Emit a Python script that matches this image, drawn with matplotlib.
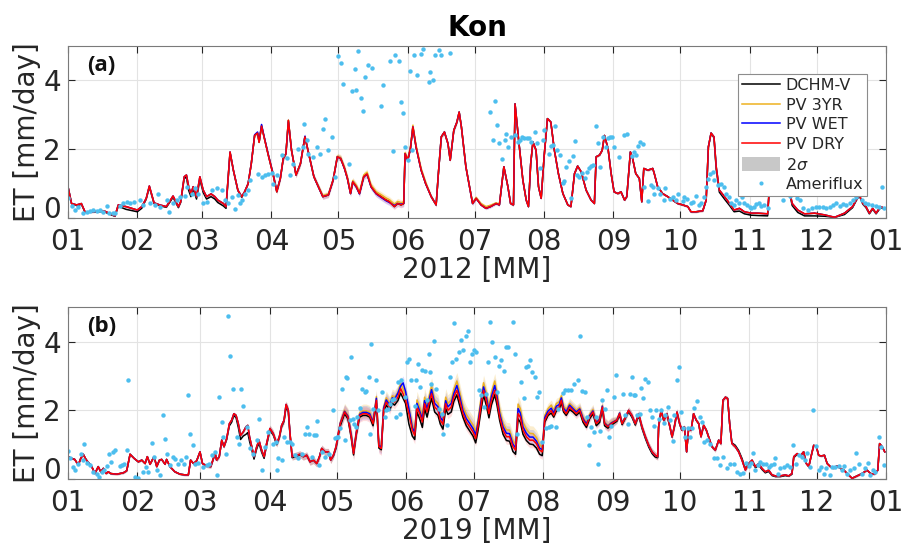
import numpy as np
import matplotlib.pyplot as plt
from matplotlib.patches import Patch
from matplotlib.lines import Line2D

# ---------- panel (a) 2012 ----------
day_a = [0, 1.6, 3.9, 6, 7.6, 11, 16, 19, 21, 22.5,
         26, 31, 33, 35, 36.4, 38.5, 41, 44, 47, 49.4,
         50.4, 52, 53, 54, 55, 56, 57.5, 59, 60.5, 62,
         64, 65.7, 67, 69.5, 70.7, 72.5, 74, 76, 77.7, 79,
         80.6, 82, 83.5, 84.8, 85.5, 86.6, 87.7, 89.6, 91.8, 93.4,
         95, 96.3, 97.5, 98.6, 100, 102, 104, 106, 107.5, 110,
         112, 114, 116.5, 118.6, 120.5, 122, 123.7, 125, 126.4, 127.4,
         129, 130.4, 132.3, 133.8, 135.6, 137.9, 140, 142.3, 143.8, 146,
         147.5, 149, 150.2, 150.8, 152, 153.2, 154.3, 155.7, 158, 160,
         162.5, 164.7, 165.7, 167, 168.4, 170, 171, 172.6, 174, 175,
         176, 178, 179.6, 181, 182.6, 184.8, 187, 189, 191.5, 193,
         195, 196.8, 198, 199.3, 200, 201.7, 203.5, 205, 206, 207,
         208, 209.4, 210.5, 211.7, 213, 214.5, 216, 217.6, 219.4, 221.4,
         223.6, 225, 226.6, 228, 229.6, 231.8, 234, 235.5, 236.3, 237.8,
         239, 240, 241.6, 243, 244.3, 246, 247.4, 249, 250, 251.6,
         252.6, 254, 255.6, 256.7, 257.6, 259.4, 261.6, 262.3, 263.8, 266,
         268.3, 270.5, 272.8, 275, 277.3, 278.7, 281, 284, 285.5, 286.5,
         287.7, 289, 290, 291.4, 293.7, 296, 298, 300.4, 302.6, 305.6,
         308.6, 313, 313.8, 314.5, 317.5, 320.5, 322.7, 324, 326.5, 329.5,
         334, 338.4, 343, 347.4, 351, 352.6, 354, 355.6, 357, 358.5,
         360, 361.5, 363.5, 365.3]
dry_a = [0.91, 0.42, 0.38, 0.42, 0.18, 0.18, 0.21, 0.12, 0.06, 0.38,
         0.33, 0.23, 0.33, 0.57, 0.93, 0.44, 0.38, 0.33, 0.64, 0.33,
         0.47, 1.2, 1.25, 0.91, 0.71, 0.91, 0.62, 1.2, 0.81, 0.62,
         0.7, 0.62, 0.52, 0.42, 0.33, 1.92, 1.39, 0.81, 0.62, 0.76,
         1.0, 1.58, 2.4, 2.47, 2.2, 2.67, 2.36, 1.83, 1.25, 0.76,
         1.15, 1.73, 1.87, 2.84, 1.97, 1.25, 1.58, 2.36, 1.92, 1.2,
         0.91, 0.62, 0.67, 1.1, 1.78, 1.73, 1.44, 1.15, 0.71, 1.05,
         0.91, 0.71, 1.2, 1.28, 0.91, 0.71, 0.62, 0.52, 0.47, 0.33,
         0.42, 0.38, 0.42, 1.87, 1.68, 2.02, 2.65, 2.07, 1.39, 1.0,
         0.62, 0.38, 1.29, 2.36, 2.5, 2.16, 1.68, 2.55, 2.79, 3.08,
         2.65, 1.49, 0.91, 0.42, 0.57, 0.38, 0.28, 0.33, 0.42, 0.38,
         1.49, 0.91, 0.42, 0.38, 3.32, 2.21, 1.1, 0.52, 0.33, 1.58,
         2.21, 1.97, 0.91, 0.57, 1.78, 2.89, 2.79, 1.97, 1.29, 0.71,
         0.38, 0.33, 1.29, 1.51, 1.34, 0.81, 0.52, 0.42, 1.78, 1.83,
         1.97, 2.4, 2.02, 1.29, 0.76, 0.71, 0.76, 0.52, 0.62, 1.92,
         1.73, 1.29, 1.15, 0.47, 1.44, 1.39, 1.44, 1.29, 0.91, 0.71,
         0.62, 0.52, 0.42, 0.38, 0.33, 0.18, 0.18, 0.21, 0.52, 2.07,
         2.47, 2.36, 1.49, 0.81, 0.62, 0.42, 0.23, 0.28, 0.18, 0.14,
         0.14, 0.12, 0.91, 1.3, 1.5, 1.3, 0.81, 0.42, 0.23, 0.12,
         0.14, 0.09, 0.02, 0.14, 0.33, 0.52, 0.67, 0.42, 0.33, 0.14,
         0.28, 0.14, 0.33, 0.28]
dchm_a = [0.91, 0.42, 0.36, 0.40, 0.17, 0.17, 0.19, 0.10, 0.05, 0.34,
          0.25, 0.18, 0.28, 0.55, 0.90, 0.42, 0.36, 0.31, 0.60, 0.30,
          0.45, 1.15, 1.18, 0.80, 0.62, 0.85, 0.55, 1.12, 0.74, 0.55,
          0.62, 0.55, 0.45, 0.35, 0.28, 1.90, 1.38, 0.80, 0.60, 0.75,
          1.0, 1.58, 2.4, 2.47, 2.2, 2.67, 2.36, 1.83, 1.25, 0.76,
          1.15, 1.73, 1.87, 2.84, 1.97, 1.25, 1.58, 2.36, 1.92, 1.2,
          0.91, 0.62, 0.67, 1.1, 1.78, 1.73, 1.44, 1.15, 0.71, 1.05,
          0.91, 0.71, 1.2, 1.28, 0.91, 0.71, 0.62, 0.52, 0.47, 0.33,
          0.42, 0.38, 0.42, 1.87, 1.68, 2.02, 2.65, 2.07, 1.39, 1.0,
          0.62, 0.38, 1.29, 2.36, 2.5, 2.16, 1.68, 2.55, 2.79, 3.08,
          2.65, 1.49, 0.91, 0.42, 0.57, 0.38, 0.28, 0.33, 0.42, 0.38,
          1.49, 0.91, 0.42, 0.38, 3.32, 2.21, 1.1, 0.52, 0.33, 1.58,
          2.21, 1.97, 0.91, 0.57, 1.78, 2.89, 2.79, 1.97, 1.29, 0.71,
          0.38, 0.33, 1.29, 1.51, 1.34, 0.81, 0.52, 0.42, 1.78, 1.83,
          1.97, 2.4, 2.02, 1.29, 0.76, 0.71, 0.76, 0.52, 0.62, 1.92,
          1.73, 1.29, 1.15, 0.47, 1.44, 1.39, 1.44, 1.29, 0.91, 0.71,
          0.62, 0.52, 0.42, 0.38, 0.33, 0.18, 0.18, 0.21, 0.52, 2.07,
          2.47, 2.33, 1.42, 0.75, 0.55, 0.36, 0.18, 0.20, 0.12, 0.08,
          0.07, 0.06, 0.88, 1.28, 1.48, 1.28, 0.75, 0.36, 0.16, 0.06,
          0.06, 0.05, 0.02, 0.10, 0.30, 0.50, 0.65, 0.40, 0.30, 0.12,
          0.26, 0.12, 0.30, 0.26]
yr3_a = [0.91, 0.42, 0.38, 0.42, 0.18, 0.18, 0.21, 0.12, 0.06, 0.38,
         0.33, 0.23, 0.33, 0.57, 0.93, 0.44, 0.38, 0.33, 0.64, 0.33,
         0.47, 1.2, 1.25, 0.91, 0.71, 0.91, 0.62, 1.2, 0.81, 0.62,
         0.7, 0.62, 0.52, 0.42, 0.33, 1.92, 1.39, 0.81, 0.62, 0.76,
         1.0, 1.58, 2.4, 2.47, 2.2, 2.70, 2.36, 1.85, 1.28, 0.8,
         1.15, 1.73, 1.87, 2.84, 1.97, 1.25, 1.58, 2.36, 1.92, 1.2,
         0.93, 0.65, 0.7, 1.12, 1.8, 1.76, 1.48, 1.19, 0.76, 1.09,
         0.95, 0.76, 1.25, 1.33, 0.96, 0.76, 0.68, 0.58, 0.53, 0.40,
         0.48, 0.44, 0.47, 1.9, 1.72, 2.06, 2.7, 2.12, 1.44, 1.05,
         0.62, 0.38, 1.29, 2.36, 2.5, 2.16, 1.68, 2.55, 2.79, 3.08,
         2.65, 1.5, 0.93, 0.45, 0.6, 0.42, 0.33, 0.37, 0.44, 0.4,
         1.49, 0.91, 0.42, 0.38, 3.32, 2.21, 1.1, 0.52, 0.33, 1.58,
         2.21, 1.97, 0.91, 0.57, 1.78, 2.89, 2.79, 1.97, 1.29, 0.71,
         0.38, 0.33, 1.29, 1.51, 1.34, 0.81, 0.52, 0.42, 1.78, 1.83,
         1.97, 2.4, 2.02, 1.29, 0.76, 0.71, 0.76, 0.52, 0.62, 1.92,
         1.73, 1.29, 1.15, 0.47, 1.44, 1.39, 1.44, 1.29, 0.91, 0.71,
         0.62, 0.52, 0.42, 0.38, 0.33, 0.18, 0.18, 0.21, 0.52, 2.07,
         2.47, 2.36, 1.49, 0.81, 0.62, 0.42, 0.23, 0.28, 0.18, 0.14,
         0.14, 0.12, 0.91, 1.3, 1.5, 1.3, 0.81, 0.42, 0.23, 0.12,
         0.14, 0.09, 0.02, 0.14, 0.33, 0.52, 0.67, 0.42, 0.33, 0.14,
         0.28, 0.14, 0.33, 0.28]
wet_a = [0.91, 0.42, 0.38, 0.42, 0.18, 0.18, 0.21, 0.12, 0.06, 0.38,
         0.33, 0.23, 0.33, 0.57, 0.93, 0.44, 0.38, 0.33, 0.64, 0.33,
         0.47, 1.2, 1.25, 0.91, 0.71, 0.91, 0.62, 1.2, 0.81, 0.62,
         0.7, 0.62, 0.52, 0.42, 0.33, 1.92, 1.39, 0.81, 0.62, 0.76,
         1.0, 1.58, 2.42, 2.5, 2.22, 2.72, 2.38, 1.85, 1.27, 0.78,
         1.15, 1.73, 1.87, 2.8, 1.97, 1.25, 1.58, 2.38, 1.92, 1.2,
         0.91, 0.62, 0.67, 1.1, 1.78, 1.73, 1.44, 1.15, 0.71, 1.05,
         0.9, 0.7, 1.2, 1.27, 0.9, 0.7, 0.6, 0.5, 0.45, 0.36,
         0.42, 0.4, 0.42, 1.87, 1.68, 2.02, 2.65, 2.07, 1.39, 1.0,
         0.62, 0.38, 1.29, 2.36, 2.5, 2.16, 1.68, 2.55, 2.79, 3.08,
         2.65, 1.49, 0.91, 0.42, 0.57, 0.38, 0.28, 0.33, 0.42, 0.38,
         1.49, 0.91, 0.42, 0.38, 3.32, 2.21, 1.1, 0.52, 0.33, 1.58,
         2.21, 1.97, 0.91, 0.57, 1.78, 2.89, 2.79, 1.97, 1.29, 0.71,
         0.38, 0.33, 1.29, 1.51, 1.34, 0.81, 0.52, 0.42, 1.78, 1.83,
         1.97, 2.4, 2.02, 1.29, 0.76, 0.71, 0.76, 0.52, 0.62, 1.92,
         1.73, 1.29, 1.15, 0.47, 1.44, 1.39, 1.44, 1.29, 0.91, 0.71,
         0.62, 0.52, 0.42, 0.38, 0.33, 0.18, 0.18, 0.21, 0.52, 2.07,
         2.47, 2.36, 1.49, 0.81, 0.62, 0.42, 0.23, 0.28, 0.18, 0.14,
         0.14, 0.12, 0.91, 1.3, 1.5, 1.3, 0.81, 0.42, 0.23, 0.12,
         0.14, 0.09, 0.02, 0.14, 0.33, 0.52, 0.67, 0.42, 0.33, 0.14,
         0.28, 0.14, 0.33, 0.28]
sig_a = [0.03, 0.03, 0.04, 0.08, 0.09, 0.06, 0.04, 0.03, 0.03, 0.03, 0.02, 0.02]

flux_day_a = [0.1, 1.6, 3.1, 4.6, 6.6, 8.4, 9.8, 11.3, 12.8, 14.3, 15.8, 17.3, 18.5, 20, 21,
              23.3, 24.8, 26.2, 27.7, 29.5, 32.2, 33.7, 36.7, 38.9, 40.4, 41.2, 44.1, 45.3,
              47.1, 48.6, 50.1, 52.3, 53.1, 55.3, 56.8, 58.3, 60.3,
              62, 64.3, 66.5, 68.8, 70.2, 71.7, 73.2, 74.7, 76.2, 77, 77.7, 79.2, 80.7, 81.4,
              85.2, 86.7, 88.1, 89.6, 91.1,
              91.9, 93.4, 95.6, 97.8, 99.3, 100.8, 103.1, 105.3, 105.8, 106.8, 107.5, 109.8,
              111.3, 112.7, 114.2, 115, 116.5, 118, 119.5,
              121, 122.2, 122.9, 125.9, 127, 128.2, 128.9, 129.9, 131.1, 132.2, 133.1, 134.1,
              135.9, 140.1, 141, 144.1, 145.2, 146.1, 148, 149, 150.1, 150.8, 152,
              153.2, 154, 155, 156, 158, 159, 161.3, 162, 163.2, 164, 166.2, 167, 171,
              189, 190.1, 191.1, 192, 193, 194, 195.3, 196, 197, 198, 199.8, 201.3, 202, 203,
              204.2, 205.4, 206.4, 207.2, 209, 209.9, 211.1, 212.3, 212.9,
              215, 216.2, 216.9, 217.9, 218.8, 220.2, 221.4, 222.1, 222.9, 224.1, 225.1, 225.9,
              226.9, 227.8, 228.8, 229.9, 231.1, 232.2, 233.1, 234.1, 234.8, 236, 237, 238.1,
              239.3, 240.8, 241.5, 242.4, 243.3,
              244.1, 246.7, 248.9, 250.1, 252.2, 253.4, 254.1, 254.9, 256.1, 257.1, 257.9,
              259.4, 260.6, 261.6, 262.3, 263.8, 265, 266.5, 267.1, 269.1, 270.5, 272, 273.1,
              275, 275.8, 277, 278.5, 279.5, 281, 282.5, 283.2, 284.4, 285.5, 286.5, 287.4,
              288.4, 289.2, 290.7, 292.2, 293.4, 294.4, 295.5, 296.7, 297.8, 298.9, 300.4,
              301.4, 302.6, 303.8, 304.9,
              305.6, 306.8, 307.8, 309.3, 310, 311.5, 313, 317, 320, 323, 326, 327.5, 329,
              331, 333, 334.5,
              336.2, 337.7, 339.2, 340.7, 342.2, 343.7, 345.2, 346.7, 348.2, 349.7, 351.2,
              352.7, 355, 356.5, 358, 359.5, 361.3, 362.8, 364, 365.2]
flux_a = [0.57, 0.35, 0.23, 0.33, 0.15, 0.18, 0.21, 0.23, 0.21, 0.23, 0.18, 0.35, 0.14, 0.14, 0.15,
          0.35, 0.43, 0.47, 0.43, 0.47, 0.52, 0.38, 0.43, 0.38, 0.71, 0.33, 0.52, 0.18,
          0.43, 0.52, 0.62, 0.64, 0.91, 0.71, 0.86, 0.71, 0.43,
          0.47, 0.81, 0.86, 0.81, 0.52, 0.43, 0.62, 0.25, 0.67, 0.43, 0.52, 0.7, 0.81, 1.1,
          1.29, 1.2, 1.25, 1.29, 1.31,
          1.0, 1.25, 1.83, 1.73, 1.25, 1.58, 2.02, 2.07, 2.74, 2.26, 1.87, 1.78,
          2.07, 1.87, 2.6, 2.89, 1.97, 2.36, 1.2,
          4.72, 4.5, 3.9, 1.57, 3.69, 4.34, 3.71, 4.87, 3.5, 3.11, 4.1, 4.46,
          4.37, 3.26, 3.87, 4.56, 1.95, 4.75, 4.58, 3.37, 3.05, 2.07, 1.68,
          4.29, 1.99, 4.73, 4.17, 4.77, 4.92, 3.95, 4.26, 4.0, 4.73, 4.89, 4.73, 4.79,
          3.08, 2.28, 3.4, 2.7, 2.18, 1.72, 2.28, 2.43, 2.07, 2.36, 2.41, 2.21, 2.28, 2.36,
          2.34, 2.33, 2.34, 2.21, 2.5, 2.18, 1.44, 2.26, 2.57,
          1.86, 2.09, 2.12, 2.69, 1.97, 1.83, 1.02, 1.08, 1.49, 1.66, 0.57, 1.8,
          2.24, 1.25, 1.18, 1.31, 1.15, 1.34, 1.44, 1.51, 1.54, 2.69, 2.19, 1.49,
          2.36, 2.05, 2.34, 2.36, 2.36,
          2.07, 1.78, 2.4, 2.45, 1.8, 1.92, 1.83, 2.09, 2.21, 2.16, 0.91,
          0.5, 0.96, 0.91, 0.7, 0.86, 0.71, 0.52, 0.86, 0.54, 0.62, 0.52, 0.71,
          0.5, 0.62, 0.54, 0.43, 0.47, 0.64, 0.38, 0.43, 0.62, 0.91, 1.12, 1.29,
          1.34, 1.1, 0.96, 0.99, 0.91, 0.71, 0.62, 0.44, 0.38, 0.52, 0.43,
          0.62, 0.43, 0.38, 0.33,
          0.28, 0.33, 0.41, 0.43, 0.35, 0.38, 0.28, 0.74, 0.53, 0.63, 0.58, 0.53, 0.28,
          0.23, 0.28, 0.33,
          0.33, 0.33, 0.28, 0.33, 0.38, 0.43, 0.35, 0.41, 0.38, 0.43, 0.52,
          0.62, 0.52, 0.44, 0.41, 0.38, 0.35, 0.33, 0.89, 0.28]

# ---------- panel (b) 2019 ----------
day_b = [0, 1.6, 3, 4.6, 5.7, 6.8, 8, 9.5, 10.6, 12,
         13.5, 14.6, 15.8, 17, 18, 19, 21.7, 24.7, 26.2, 27.7,
         29.5, 31.4, 32.9, 34.4, 35.4, 36.6, 38.4, 39.6, 40.8, 41.8,
         43.3, 44, 45.5, 47.7, 50, 52.2, 53.7, 54.7, 56, 57.4,
         58.9, 60, 61.9, 63.7, 64.9, 65.6, 66.3, 67.5, 68.6, 69.6,
         70.8, 72, 73, 74, 75, 76, 77, 78.2, 79.4, 80.2,
         81, 82, 83, 84.2, 85.2, 86.4, 87.5, 88.6, 90.1, 91.6,
         93.1, 94.3, 95.3, 96.4, 97.3, 98.3, 99, 100, 102, 103.5,
         105, 106.5, 108, 109.5, 111, 112.2, 113.2, 114.7, 116.2, 117.2,
         118.4, 119.6, 120.6, 121.5, 123.4, 124.9, 126.4, 127.4, 128.6, 130.1,
         131.6, 133.1, 134.6, 136.1, 137.6, 138.7, 139.8, 140.8, 142, 143.5,
         144.7, 145.7, 147.2, 148.4, 149.5, 150.6, 152.1, 153.6, 154.7, 155.7,
         156.9, 158.1, 159.1, 160.2, 161.4, 162.2, 163.6, 165.1, 166.1, 167.3,
         168.5, 169.5, 171, 172.1, 173.5, 174.7, 176.2, 177.7, 179.2, 180.7,
         181.9, 182.9, 184.4, 185.4, 186.6, 187.8, 188.9, 190.4, 191.4, 192.6,
         194.1, 195.6, 197, 198.5, 199.7, 200.8, 201.8, 203, 204.5, 206,
         207.5, 209, 210.4, 211.6, 212.7, 214.2, 215.6, 216.7, 217.9, 219.1,
         220.1, 221.1, 222.3, 223.8, 225.3, 226.8, 228.3, 229.8, 231.3, 232.7,
         234.2, 235.7, 237.2, 238.4, 239.4, 240.9, 242.4, 244.9, 246.1, 247.2,
         248.7, 250.1, 251.6, 253.1, 254.6, 256.1, 257.6, 259.1, 260.6, 262,
         263.1, 263.5, 264.6, 265.8, 267.2, 268.4, 269.5, 270.5, 271.7, 272.9,
         273.9, 275, 276, 276.9, 278, 279.1, 280.3, 281.4, 282.4, 283.6,
         284.8, 286.3, 287.3, 288.8, 290.3, 291.3, 292.2, 293.3, 294.3, 295.2,
         296.2, 297.7, 299.2, 300.7, 302.2, 303.7, 305.2, 306.7, 308.2, 309.6,
         311.1, 312.6, 314.1, 315.6, 317.8, 320, 321.5, 323, 323.8, 325.3,
         326.7, 328.2, 329.4, 330.5, 331.5, 332.7, 333.9, 334.9, 336, 337.5,
         338.7, 340.1, 341.6, 343.1, 344.6, 346.1, 347.9, 349.8, 352, 354.3,
         356.5, 358, 359.8, 361.3, 362.1, 363.2, 364.4]
dry_b = [0.65, 0.6, 0.57, 0.41, 0.6, 0.72, 0.57, 0.45, 0.36, 0.16,
         0.36, 0.21, 0.31, 0.16, 0.21, 0.16, 0.14, 0.18, 0.24, 0.72,
         0.6, 0.5, 0.55, 0.45, 0.65, 0.43, 0.65, 0.36, 0.55, 0.57,
         0.43, 0.57, 0.36, 0.21, 0.14, 0.12, 0.12, 0.55, 0.45, 0.53,
         0.79, 0.45, 0.38, 0.36, 0.6, 0.76, 0.55, 0.65, 1.13, 0.94,
         1.18, 1.61, 1.71, 1.9, 1.85, 1.61, 1.27, 1.37, 1.52, 1.56,
         1.23, 0.94, 0.65, 0.94, 1.13, 0.84, 0.65, 1.03, 1.47, 1.32,
         1.03, 1.23, 1.56, 1.71, 2.17, 2.0, 1.37, 0.65, 0.69, 0.72,
         0.65, 0.69, 0.5, 0.55, 0.45, 0.65, 0.89, 0.79, 0.79, 0.55,
         0.69, 0.94, 1.32, 1.61, 1.95, 1.8, 1.23, 0.74, 1.32, 1.85,
         1.9, 1.9, 1.85, 1.61, 2.29, 0.94, 0.89, 2.0, 2.24, 2.09,
         2.29, 2.24, 2.38, 2.63, 2.48, 2.29, 1.9, 1.42, 1.27, 2.09,
         1.9, 1.66, 2.19, 1.95, 2.29, 2.48, 2.09, 2.0, 1.71, 1.59,
         2.19, 2.0, 2.09, 2.38, 2.58, 2.29, 1.9, 1.66, 1.52, 1.37,
         1.18, 1.52, 2.19, 2.58, 2.29, 1.9, 2.29, 2.58, 2.29, 1.8,
         1.42, 1.23, 1.23, 0.94, 0.84, 1.9, 1.8, 1.42, 1.23, 1.13,
         1.13, 1.03, 0.84, 0.79, 1.71, 1.9, 1.99, 1.85, 2.05, 2.09,
         2.29, 2.0, 1.9, 2.09, 2.0, 1.9, 2.0, 1.71, 1.56, 1.8,
         1.95, 1.61, 1.71, 2.09, 1.61, 1.52, 1.61, 1.71, 1.9, 1.61,
         1.8, 2.0, 1.85, 1.61, 1.9, 1.52, 1.23, 0.98, 0.79, 0.69,
         0.65, 1.52, 2.0, 1.71, 1.9, 1.56, 1.23, 1.52, 1.95, 1.61,
         1.42, 1.52, 0.79, 1.47, 1.42, 1.9, 1.71, 1.61, 1.23, 1.56,
         1.42, 1.13, 0.94, 0.84, 1.13, 1.03, 2.29, 2.38, 2.34, 1.61,
         1.03, 0.94, 0.79, 0.55, 0.26, 0.45, 0.55, 0.36, 0.45, 0.31,
         0.21, 0.26, 0.12, 0.09, 0.09, 0.12, 0.09, 0.16, 0.65, 0.74,
         0.67, 0.79, 0.45, 0.36, 0.65, 0.98, 0.94, 0.69, 0.67, 0.69,
         0.45, 0.36, 0.31, 0.38, 0.31, 0.26, 0.14, 0.02, 0.09, 0.16,
         0.26, 0.16, 0.14, 0.26, 1.03, 0.94, 0.79]
dchm_b = [0.65, 0.6, 0.57, 0.41, 0.6, 0.72, 0.57, 0.45, 0.36, 0.16,
          0.36, 0.21, 0.31, 0.16, 0.21, 0.16, 0.14, 0.18, 0.24, 0.72,
          0.6, 0.5, 0.55, 0.45, 0.65, 0.43, 0.65, 0.36, 0.55, 0.57,
          0.43, 0.57, 0.36, 0.21, 0.14, 0.12, 0.12, 0.55, 0.45, 0.53,
          0.79, 0.45, 0.38, 0.36, 0.6, 0.76, 0.55, 0.65, 1.13, 0.94,
          1.15, 1.55, 1.65, 1.85, 1.78, 1.5, 1.15, 1.25, 1.3, 1.35,
          1.1, 0.85, 0.58, 0.88, 1.05, 0.78, 0.6, 0.98, 1.42, 1.28,
          1.0, 1.2, 1.52, 1.68, 2.1, 1.95, 1.33, 0.62, 0.66, 0.7,
          0.65, 0.69, 0.5, 0.55, 0.45, 0.65, 0.89, 0.79, 0.79, 0.55,
          0.67, 0.9, 1.28, 1.55, 1.9, 1.75, 1.18, 0.7, 1.28, 1.8,
          1.85, 1.85, 1.8, 1.55, 2.2, 0.9, 0.85, 1.95, 2.15, 2.0,
          2.2, 2.15, 2.28, 2.5, 2.35, 2.2, 1.6, 1.25, 1.15, 1.95,
          1.75, 1.5, 2.05, 1.8, 2.15, 2.35, 1.95, 1.85, 1.6, 1.45,
          2.05, 1.88, 1.95, 2.25, 2.45, 2.15, 1.8, 1.55, 1.4, 1.25,
          1.05, 1.4, 2.05, 2.45, 2.15, 1.78, 2.15, 2.45, 2.15, 1.7,
          1.3, 1.12, 1.1, 0.8, 0.72, 1.75, 1.65, 1.3, 1.12, 1.02,
          1.0, 0.9, 0.72, 0.68, 1.65, 1.85, 1.92, 1.8, 1.98, 2.02,
          2.22, 1.95, 1.85, 2.02, 1.95, 1.85, 1.95, 1.65, 1.5, 1.75,
          1.9, 1.55, 1.65, 2.02, 1.55, 1.48, 1.57, 1.68, 1.86, 1.58,
          1.77, 1.96, 1.8, 1.57, 1.85, 1.47, 1.18, 0.93, 0.74, 0.64,
          0.62, 1.5, 1.98, 1.7, 1.88, 1.55, 1.22, 1.5, 1.93, 1.6,
          1.42, 1.52, 0.79, 1.47, 1.42, 1.9, 1.71, 1.61, 1.23, 1.56,
          1.42, 1.13, 0.94, 0.84, 1.13, 1.03, 2.29, 2.38, 2.34, 1.61,
          1.05, 0.98, 0.83, 0.6, 0.3, 0.45, 0.5, 0.33, 0.4, 0.28,
          0.18, 0.22, 0.1, 0.07, 0.07, 0.1, 0.08, 0.14, 0.62, 0.72,
          0.67, 0.79, 0.45, 0.36, 0.65, 0.98, 0.94, 0.69, 0.67, 0.69,
          0.45, 0.36, 0.31, 0.38, 0.31, 0.26, 0.14, 0.02, 0.09, 0.16,
          0.26, 0.16, 0.14, 0.26, 1.03, 0.94, 0.79]
yr3_b = [0.65, 0.6, 0.57, 0.41, 0.6, 0.72, 0.57, 0.45, 0.36, 0.16,
         0.36, 0.21, 0.31, 0.16, 0.21, 0.16, 0.14, 0.18, 0.24, 0.72,
         0.6, 0.5, 0.55, 0.45, 0.65, 0.43, 0.65, 0.36, 0.55, 0.57,
         0.43, 0.57, 0.36, 0.21, 0.14, 0.12, 0.12, 0.55, 0.45, 0.53,
         0.79, 0.45, 0.38, 0.36, 0.6, 0.76, 0.55, 0.65, 1.13, 0.94,
         1.18, 1.61, 1.71, 1.9, 1.85, 1.61, 1.27, 1.37, 1.52, 1.56,
         1.23, 0.94, 0.65, 0.94, 1.13, 0.84, 0.65, 1.03, 1.47, 1.32,
         1.03, 1.23, 1.56, 1.71, 2.17, 2.0, 1.37, 0.65, 0.69, 0.72,
         0.65, 0.69, 0.5, 0.55, 0.45, 0.65, 0.89, 0.79, 0.79, 0.55,
         0.7, 0.96, 1.35, 1.65, 2.0, 1.86, 1.3, 0.8, 1.38, 1.92,
         1.98, 1.98, 1.94, 1.7, 2.4, 1.02, 0.97, 2.1, 2.36, 2.2,
         2.42, 2.38, 2.52, 2.78, 2.62, 2.45, 2.05, 1.58, 1.42, 2.3,
         2.08, 1.85, 2.38, 2.15, 2.48, 2.7, 2.3, 2.2, 1.9, 1.78,
         2.38, 2.2, 2.3, 2.6, 2.85, 2.55, 2.12, 1.88, 1.72, 1.57,
         1.38, 1.72, 2.42, 2.8, 2.52, 2.12, 2.52, 2.85, 2.52, 2.02,
         1.62, 1.43, 1.42, 1.12, 1.0, 2.18, 2.05, 1.65, 1.45, 1.33,
         1.32, 1.2, 1.0, 0.92, 1.85, 2.05, 2.15, 2.0, 2.2, 2.24,
         2.42, 2.12, 2.02, 2.2, 2.1, 2.0, 2.08, 1.8, 1.64, 1.88,
         2.02, 1.68, 1.77, 2.14, 1.66, 1.56, 1.65, 1.74, 1.93, 1.64,
         1.8, 2.0, 1.85, 1.61, 1.9, 1.52, 1.23, 0.98, 0.79, 0.69,
         0.65, 1.52, 2.0, 1.71, 1.9, 1.56, 1.23, 1.52, 1.95, 1.61,
         1.42, 1.52, 0.79, 1.47, 1.42, 1.9, 1.71, 1.61, 1.23, 1.56,
         1.42, 1.13, 0.94, 0.84, 1.13, 1.03, 2.29, 2.38, 2.34, 1.61,
         1.03, 0.94, 0.79, 0.55, 0.26, 0.45, 0.55, 0.36, 0.45, 0.31,
         0.21, 0.26, 0.12, 0.09, 0.09, 0.12, 0.09, 0.16, 0.65, 0.74,
         0.67, 0.79, 0.45, 0.36, 0.65, 0.98, 0.94, 0.69, 0.67, 0.69,
         0.45, 0.36, 0.31, 0.38, 0.31, 0.26, 0.14, 0.02, 0.09, 0.16,
         0.26, 0.16, 0.14, 0.26, 1.03, 0.94, 0.79]
wet_b = [0.65, 0.6, 0.57, 0.41, 0.6, 0.72, 0.57, 0.45, 0.36, 0.16,
         0.36, 0.21, 0.31, 0.16, 0.21, 0.16, 0.14, 0.18, 0.24, 0.72,
         0.6, 0.5, 0.55, 0.45, 0.65, 0.43, 0.65, 0.36, 0.55, 0.57,
         0.43, 0.57, 0.36, 0.21, 0.14, 0.12, 0.12, 0.55, 0.45, 0.53,
         0.79, 0.45, 0.38, 0.36, 0.6, 0.76, 0.55, 0.65, 1.13, 0.94,
         1.18, 1.61, 1.71, 1.9, 1.85, 1.61, 1.27, 1.37, 1.52, 1.56,
         1.23, 0.94, 0.65, 0.94, 1.13, 0.84, 0.65, 1.03, 1.47, 1.32,
         1.03, 1.23, 1.56, 1.71, 2.17, 2.0, 1.37, 0.65, 0.69, 0.72,
         0.65, 0.69, 0.5, 0.55, 0.45, 0.65, 0.89, 0.79, 0.79, 0.55,
         0.69, 0.94, 1.33, 1.63, 1.97, 1.83, 1.27, 0.77, 1.35, 1.88,
         1.94, 1.94, 1.9, 1.66, 2.35, 0.98, 0.93, 2.06, 2.3, 2.15,
         2.36, 2.32, 2.5, 2.7, 2.8, 2.55, 2.05, 1.5, 1.35, 2.2,
         1.98, 1.75, 2.28, 2.05, 2.38, 2.6, 2.2, 2.1, 1.8, 1.68,
         2.28, 2.1, 2.2, 2.48, 2.72, 2.42, 2.0, 1.76, 1.62, 1.47,
         1.28, 1.62, 2.3, 2.68, 2.4, 2.0, 2.4, 2.72, 2.4, 1.9,
         1.52, 1.33, 1.32, 1.02, 0.9, 2.05, 1.92, 1.52, 1.33, 1.22,
         1.22, 1.1, 0.9, 0.85, 1.78, 1.98, 2.06, 1.92, 2.12, 2.16,
         2.36, 2.06, 1.96, 2.15, 2.05, 1.95, 2.04, 1.76, 1.6, 1.84,
         1.98, 1.64, 1.74, 2.12, 1.63, 1.54, 1.63, 1.72, 1.92, 1.63,
         1.8, 2.0, 1.85, 1.61, 1.9, 1.52, 1.23, 0.98, 0.79, 0.69,
         0.65, 1.52, 2.0, 1.71, 1.9, 1.56, 1.23, 1.52, 1.95, 1.61,
         1.42, 1.52, 0.79, 1.47, 1.42, 1.9, 1.71, 1.61, 1.23, 1.56,
         1.42, 1.13, 0.94, 0.84, 1.13, 1.03, 2.29, 2.38, 2.34, 1.61,
         1.03, 0.94, 0.79, 0.55, 0.26, 0.45, 0.55, 0.36, 0.45, 0.31,
         0.21, 0.26, 0.12, 0.09, 0.09, 0.12, 0.09, 0.16, 0.65, 0.74,
         0.67, 0.79, 0.45, 0.36, 0.65, 0.98, 0.94, 0.69, 0.67, 0.69,
         0.45, 0.36, 0.31, 0.38, 0.31, 0.26, 0.14, 0.02, 0.09, 0.16,
         0.26, 0.16, 0.14, 0.26, 1.03, 0.94, 0.79]
sig_b = [0.03, 0.03, 0.05, 0.1, 0.2, 0.25, 0.22, 0.15, 0.1, 0.06, 0.03, 0.03]

flux_day_b = [0, 0.9, 2.4, 3.1, 4.6, 5.7, 6.5, 7.1, 8.3, 9.8, 11, 12.8, 14, 15, 16.1, 17.3,
              18.4, 19, 19.9, 21, 23.2, 23.9, 25, 26.2, 26.9, 29.9, 31.4,
              33.6, 34.8, 35.8, 37.3, 38.4, 39.6, 41.1, 42.2, 43.3, 44.3, 45.5, 46.7, 47.7,
              49.2, 50.3, 51.8, 52.7, 53.4, 54.4, 55.6, 56.7, 58.2,
              60.4, 61.9, 63.1, 64.1, 65.6, 66.3, 67.5, 68.6, 69.3, 70.5, 71.2, 72.3, 73.5,
              75.3, 76.5, 77.2, 78.2, 79.7, 81.2, 82.7, 84.2, 85.2, 86.4, 87.9, 89.4,
              91.6, 92.8, 93.4, 93.9, 95.3, 96.4, 97.6, 99.1, 99.8, 101.3, 102.8, 104.3,
              105.8, 106.8, 107.7, 108.7, 109.8, 110.7, 111.3, 112.1, 113.2, 114.7, 116.6,
              118.1, 119.1, 120.2,
              120.4, 121.2, 122.4, 123.4, 124.2, 124.6, 125.7, 126.4, 127.1, 127.4, 128.3,
              128.9, 130.1, 131.3, 132.3, 133.1, 134.3, 134.9, 135.3, 136.1, 137.3, 138.3,
              140.2, 141.3, 142, 142.8, 143.5, 144.7, 145.3, 146.5, 147.2, 148, 148.7, 150.2,
              151.2, 152.1, 153.2, 154.7, 155.4, 156.1, 157.2, 158.1, 159.1, 160.2, 161,
              161.6, 162.1, 163.4, 164.3, 165.5, 167, 167.3, 169.1, 170.3, 171.2, 172.4,
              173.3, 174.4, 175.5, 176.2, 177.4, 178.5, 179.5, 180.4, 181.3, 182.2, 183.4,
              184.4, 185.4, 186.3, 187.4, 188.4, 189.3, 190.4, 191.4, 192.3, 193.3, 194.4,
              195.3, 196.3, 198.5, 199.3, 200.3, 202.3, 203.3, 204.2, 205.2, 206.3, 207.2,
              208.2, 209.2, 210.1, 211.6, 213.4, 214.6, 215.6, 217.6, 218.6, 220.8, 221.9,
              223.1, 224.6, 225.6, 227.5, 228.3, 229.5, 230.5, 231.6, 232.5, 233.5, 234.5,
              235.7, 236.5, 237.2, 238.4, 239.4, 240.5, 241.4, 242.4, 243.5, 244.6,
              247.6, 248.7, 249.7, 250.6, 251.6, 252.4, 253.1, 253.9, 255, 255.6, 256.5,
              257.6, 258.6, 259.5, 260.6, 261.6, 262.5, 263.5, 264.6, 265.8, 266.5, 267.5,
              268.7, 269.8, 270.5, 271.7, 272.6, 273.5, 274.4, 275.4, 276.5, 277.4, 278.4,
              279.4, 280.6, 281.8, 282.9, 283.9, 285.1, 286.3, 288.1, 289.6, 291, 292.2,
              294, 295.5, 297.3, 298.5, 300, 301.2, 302.6, 303.7, 304.7, 305.6, 306.7,
              307.7, 308.9, 310.1, 311.6, 312.6, 313.7, 314.8, 315.6, 316.6, 317.8, 319.3,
              320.8, 322.3, 323.5, 325, 326, 327.5, 329, 329.7, 331.2, 332.4, 333.6, 334.9,
              336, 337.2, 338.3, 339.8, 340.8, 342.4, 343.8, 345.3, 346.4, 347.6, 349.1,
              350.5, 351.7, 352.7, 354.3, 355.7, 356.8, 358, 359.2, 360.2, 361.7, 362.9,
              363.9]
flux_b = [0.82, 0.6, 0.34, 0.26, 0.45, 0.74, 0.55, 1.03, 0.47, 0.41, 0.21, 0.16, 0.07, 0.21, 0.26, 0.38,
          0.74, 0.5, 0.79, 0.84, 0.38, 0.41, 0.45, 0.84, 2.87, 0.07, 0.02,
          0.21, 0.36, 0.21, 1.05, 0.65, 0.26, 0.12, 1.85, 1.15, 0.74, 0.41, 0.65, 0.57,
          0.45, 0.55, 0.45, 0.65, 2.43, 1.32, 0.98, 0.45, 0.47,
          0.36, 0.41, 0.45, 0.69, 0.79, 0.12, 2.38, 1.66, 1.23, 0.74, 4.75, 3.59, 2.63,
          1.23, 1.03, 2.63, 2.11, 1.52, 0.89, 0.74, 1.13, 1.76, 0.26, 0.94, 1.37,
          1.03, 1.08, 0.26, 0.6, 0.55, 1.23, 1.08, 1.08, 1.03, 0.69, 0.62, 0.72,
          1.32, 1.52, 1.32, 0.65, 1.27, 1.27, 1.69, 0.41, 0.79, 0.65, 0.74,
          2.0, 1.18, 1.23,
          1.21, 1.47, 2.63, 1.13, 2.98, 2.94, 1.71, 3.54, 1.76, 1.61, 1.52,
          1.8, 2.08, 2.63, 2.53, 2.56, 2.96, 1.32, 3.93, 2.05, 2.89, 2.0,
          2.53, 1.8, 2.02, 2.05, 2.19, 2.29, 2.34, 1.8, 2.82, 1.9, 2.87, 2.38,
          3.4, 3.49, 2.87, 2.11, 2.87, 3.35, 2.67, 3.16, 3.14, 2.29, 3.64,
          3.11, 2.77, 4.03, 2.63, 2.05, 1.9, 1.32, 1.56, 2.96, 3.4, 4.53,
          3.49, 3.69, 4.04, 3.74, 4.17, 4.3, 3.4, 3.64, 3.74, 3.69, 2.6,
          2.43, 2.09, 2.48, 3.4, 4.56, 3.98, 3.54, 2.53, 3.3, 3.45, 3.14,
          3.83, 3.83, 4.56, 3.64, 1.32, 2.82, 2.36, 3.27, 3.29, 3.47, 3.11,
          2.98, 2.4, 2.53, 1.08, 1.47, 1.52, 1.53, 1.52, 2.05, 2.5, 2.6,
          2.58, 2.58, 2.75, 2.87, 4.17, 2.56, 2.53, 1.8, 0.98, 1.52, 1.37,
          1.8, 0.43, 1.4, 2.29, 2.05, 2.58, 1.23, 1.53, 2.38, 3.04,
          2.48, 1.85, 1.59, 2.48, 2.96, 2.45, 2.43, 1.85, 1.9, 2.65, 2.36,
          2.92, 2.81, 2.02, 1.81, 1.53, 2.0, 1.76, 2.0, 1.63, 1.85, 2.09,
          1.71, 1.11, 1.85, 2.87, 3.27, 1.95, 1.47, 1.21, 1.47, 1.21, 1.47,
          2.08, 2.27, 1.81, 1.66, 1.08, 1.13, 1.03, 0.6, 0.6, 0.41, 0.65,
          0.31, 0.45, 0.45, 0.21, 0.16, 0.18, 0.47, 0.38, 0.47, 0.76, 0.26,
          0.41, 0.5, 0.45, 0.45, 0.36, 0.41, 0.45, 0.6, 0.16, 0.31, 0.36,
          0.41, 0.36, 0.98, 0.45, 0.69, 0.65, 0.55, 0.76, 0.36, 2.02, 0.96, 0.26,
          0.36, 0.16, 0.31, 0.12, 0.36, 0.36, 0.38, 0.26, 0.38, 0.16, 0.26,
          0.31, 0.76, 0.45, 0.16, 0.31, 0.47, 0.12, 0.26, 0.21, 1.23, 0.94,
          0.41]

month_start_a = [0, 31, 60, 91, 121, 152, 182, 213, 244, 274, 305, 335, 366]
month_start_b = [0, 31, 59, 90, 120, 151, 181, 212, 243, 273, 304, 334, 365]
month_labels = ['01', '02', '03', '04', '05', '06', '07', '08', '09', '10', '11', '12', '01']

c_dchm = '#000000'
c_3yr = '#EDB120'
c_wet = '#0000FF'
c_dry = '#FF0000'
c_flux = '#4DBEEE'
txt = '#262626'

fig = plt.figure(figsize=(9.04, 5.49), dpi=100)
ax1 = fig.add_axes([0.0752, 0.603, 0.905, 0.313])
ax2 = fig.add_axes([0.0752, 0.1275, 0.905, 0.313])


def draw(ax, days, dchm, yr3, wet, dry, sig, fday, flux, mstart, year, tag):
    days = np.array(days)
    midx = np.searchsorted(mstart, days, side='right') - 1
    s = np.array(sig)[np.clip(midx, 0, 11)]
    for vals, col, al in [(yr3, c_3yr, 0.22), (wet, c_wet, 0.13), (dry, c_dry, 0.13)]:
        v = np.array(vals)
        ax.fill_between(days, np.clip(v - s, 0, None), v + s, color=col, alpha=al, lw=0)
    ax.plot(days, dchm, color=c_dchm, lw=1.1)
    ax.plot(days, yr3, color=c_3yr, lw=1.1)
    ax.plot(days, wet, color=c_wet, lw=1.1)
    ax.plot(days, dry, color=c_dry, lw=1.1)
    ax.plot(fday, flux, ls='none', marker='o', ms=3.2, mew=0, color=c_flux)

    ax.set_xlim(mstart[0], mstart[-1])
    ax.set_ylim(0, 5)
    ax.set_xticks(mstart)
    ax.set_xticklabels(month_labels)
    ax.set_yticks([0, 2, 4])
    ax.grid(True, color='#e3e3e3', lw=0.8)
    ax.set_axisbelow(True)
    ax.tick_params(direction='in', top=True, right=True, length=5, width=0.8,
                   labelsize=20, colors=txt, pad=5)
    ax.tick_params(axis='x', pad=7)
    # bottom y label sits on the axis line, as in the original
    ax.get_yticklabels()[0].set_va('baseline')
    for sp in ax.spines.values():
        sp.set_color('#7a7a7a')
        sp.set_linewidth(0.8)
    ax.set_ylabel('ET [mm/day]', fontsize=20, color=txt, labelpad=2)
    ax.set_xlabel(year + ' [MM]', fontsize=20, color=txt, labelpad=0)
    ax.text(0.024, 0.885, tag, transform=ax.transAxes, fontsize=16,
            family='Open Sans', fontweight='bold', va='center', ha='left', color='#111111')


draw(ax1, day_a, dchm_a, yr3_a, wet_a, dry_a, sig_a, flux_day_a, flux_a,
     month_start_a, '2012', '(a)')
draw(ax2, day_b, dchm_b, yr3_b, wet_b, dry_b, sig_b, flux_day_b, flux_b,
     month_start_b, '2019', '(b)')

ax1.set_title('Kon', fontsize=20, fontweight='bold', pad=7)

handles = [Line2D([], [], color=c_dchm, lw=1.1),
           Line2D([], [], color=c_3yr, lw=1.1),
           Line2D([], [], color=c_wet, lw=1.1),
           Line2D([], [], color=c_dry, lw=1.1),
           Patch(facecolor='#c8c8c8', edgecolor='none'),
           Line2D([], [], ls='none', marker='o', ms=3.0, mew=0, color=c_flux)]
labels = ['DCHM-V', 'PV 3YR', 'PV WET', 'PV DRY', '2$\\sigma$', 'Ameriflux']
leg = ax1.legend(handles, labels, loc='upper right', bbox_to_anchor=(0.977, 0.837),
                 fontsize=11.5, frameon=True, fancybox=False, framealpha=1,
                 edgecolor='#8c8c8c', borderpad=0.25, labelspacing=0.28,
                 handlelength=2.4, handleheight=0.9, handletextpad=0.35, borderaxespad=0)
leg.get_frame().set_linewidth(0.8)
for t in leg.get_texts():
    t.set_color(txt)

fig.savefig('out.png', dpi=100)
